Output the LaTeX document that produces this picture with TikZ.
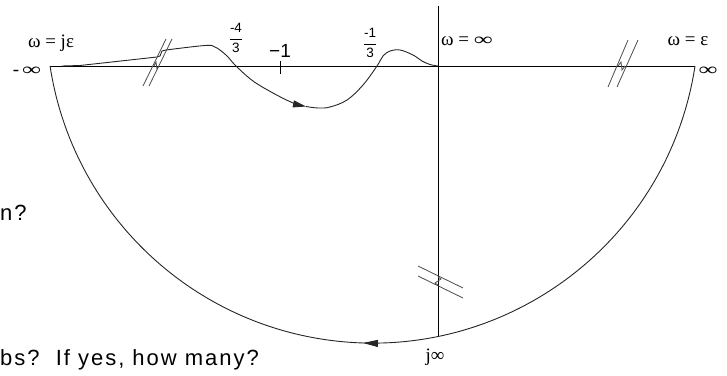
\documentclass[tikz,border=0pt]{standalone}
\usepackage{fontspec}
\setmainfont{Liberation Serif}
\setsansfont{Liberation Sans}
\newfontfamily\qfont[LetterSpace=9]{Liberation Sans}
\usepackage{amsmath}
\usepackage{graphicx}
\usetikzlibrary{arrows.meta,decorations.markings}
\newcommand{\biginf}{\resizebox{19pt}{8.5pt}{∞}}
\begin{document}
\begin{tikzpicture}[x=1pt,y=-1pt,
  axisline/.style={line width=1pt,draw=black},
  curveline/.style={line width=0.9pt,draw=black!85},
  breakline/.style={line width=0.8pt,draw=black!70},
  serlbl/.style={inner sep=0pt,font=\fontsize{19}{21}\selectfont},
  fraclbl/.style={inner sep=0pt,font=\sffamily\fontsize{13.5}{14}\selectfont},
  sanstxt/.style={inner sep=0pt,font=\qfont\fontsize{22}{24}\selectfont}]
\useasboundingbox (0,0) rectangle (727,375);

% key points
\coordinate (minf) at (50,66);
\coordinate (pinf) at (695,66);
\coordinate (O) at (438,66);
\coordinate (top) at (438,6);
\coordinate (jinf) at (438,336.5);
\coordinate (cstart) at (62,66);
\coordinate (arrowpt) at (306,106.5);

% axes
\draw[axisline] (minf) -- (pinf);
\draw[axisline] (top) -- (jinf);

% large semicircular arc with arrow pointing left
\draw[curveline, postaction={decorate},
  decoration={markings, mark=at position 0.5104 with {\arrow{Triangle[length=15pt,width=7pt]}}}]
  (pinf) arc[start angle=8.66, end angle=171.34, radius=326.2];

% Nyquist curve
\draw[curveline] (cstart) -- (80,65.5) -- (157,57) -- (160,56) -- (162,51) -- (166,50);
\draw[curveline,-{Triangle[length=13pt,width=7pt]}] plot[smooth,tension=0.6] coordinates
  {(166,50) (205,45.5) (215,47) (226,55) (236,66) (253,81) (273,93) (292,102.5) (arrowpt)};
\draw[curveline] plot[smooth,tension=0.6] coordinates
  {(arrowpt) (318,108) (330,107) (347,100) (363,85) (377,66) (383,56) (390,51) (400,50)
   (413,55) (422,61) (430,64.5) (O)};

% tick at -1
\coordinate (tk1) at (280,61);
\coordinate (tk2) at (280,74);
\draw[line width=0.9pt] (tk1) -- (tk2);

% break marks on the left
\draw[breakline] (143,86) -- (166,39);
\draw[breakline] (149,86) -- (172,39);
\draw[breakline] (154,66) -- (156,62) -- (157,69) -- (159,66);
% break marks on the right
\draw[breakline] (608,87) -- (628,40);
\draw[breakline] (617,87) -- (638,40);
\draw[breakline] (618,66) -- (621,62) -- (622,70) -- (625,66);
% break marks on the vertical axis
\draw[breakline] (418,266) -- (463,288);
\draw[breakline] (418,276) -- (463,298);
\draw[breakline] (438,277) -- (441,279) -- (435,283) -- (438,285);

% labels
\node[serlbl,anchor=base] (wje) at (51,47) {ω = jε};
\node[serlbl,anchor=base] (winf) at (467,45) {ω = \biginf};
\node[serlbl,anchor=base] (weps) at (688,45) {ω = ε};
\node[serlbl,anchor=base] (mlinf) at (27,75) {-\,\biginf};
\node[serlbl,anchor=base] (rinf) at (708,75) {\biginf};
\node[serlbl,anchor=base] (jinflbl) at (435,361) {j∞};
\node[fraclbl] (f43) at (236,38) {$\dfrac{\text{-4}}{\text{3}}$};
\node[fraclbl] (f13) at (370,43) {$\dfrac{\text{-1}}{\text{3}}$};
\node[inner sep=0pt,font=\sffamily\fontsize{19}{22}\selectfont,anchor=base] (m1) at (280,57) {−1};
\node[sanstxt,anchor=base west] (q1) at (0,220) {n?};
\node[sanstxt,anchor=base west] (q2) at (0,365.5) {bs?\ \ If yes, how many?};
\end{tikzpicture}
\end{document}
